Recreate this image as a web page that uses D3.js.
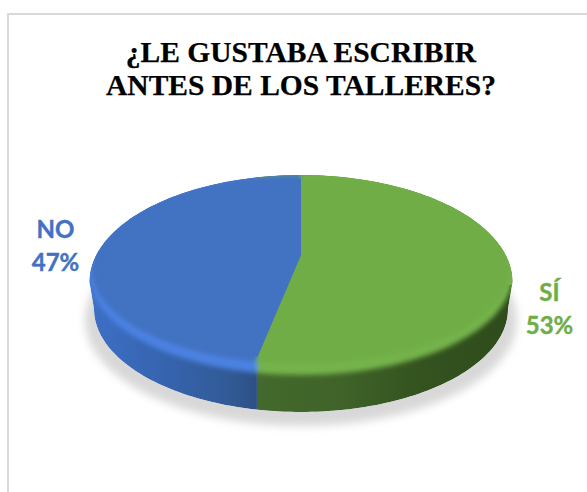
<!DOCTYPE html>
<html lang="es">
<head>
<meta charset="utf-8">
<script src="https://cdn.jsdelivr.net/npm/d3@7"></script>
<style>
  html, body { margin: 0; padding: 0; background: #fff; }
  svg { display: block; }
</style>
</head>
<body>
<script>
// Survey answers
const categories = ["SÍ", "NO"];
const percentages = [53, 47];
const titleLines = ["¿LE GUSTABA ESCRIBIR", "ANTES DE LOS TALLERES?"];

const width = 587, height = 492;
const cx = 301;
const colors = d3.scaleOrdinal(categories, ["#70ad47", "#4272c2"]);
const rimColors = d3.scaleOrdinal(categories, ["#75b34b", "#4c82e2"]);
const labelPos = d3.scaleOrdinal(categories, [[549.5, 301], [55.5, 238]]);

const svg = d3.select("body").append("svg").attr("width", width).attr("height", height);
const defs = svg.append("defs");

// Frame: only the top and left edges fall inside the crop
svg.append("path")
  .attr("d", "M8 492V14H587")
  .attr("fill", "none").attr("stroke", "#d9d9d9").attr("stroke-width", 2);

svg.append("g").selectAll("text").data(titleLines).join("text")
  .attr("x", 301).attr("y", (d, i) => 62 + i * 32.5)
  .attr("text-anchor", "middle")
  .attr("font-family", "'Liberation Serif', serif")
  .attr("font-weight", 700).attr("font-size", 29.5).attr("fill", "#000")
  .attr("stroke", "#000").attr("stroke-width", 0.25)
  .text(d => d);

const pie = d3.pie().sort(null).value(d => d.value);
const slices = pie(categories.map((name, i) => ({ name, value: percentages[i] })));

// Perspective view of a disc: a layer is the tilted circle's top, bottom,
// projected centre and half width on screen.
function projector({ top, bottom, centre, half }) {
  const up = centre - top, dn = bottom - centre;
  const k = (dn - up) / (dn + up);
  const a = up * (1 + k);
  const R = half * Math.sqrt(1 - k * k);
  return t => {
    const u = Math.sin(t), v = -Math.cos(t), w = 1 - k * v;
    return [cx + R * u / w, centre + a * v / w];
  };
}

const steps = 120;
const line = d3.line();
const sweep = (t0, t1) => d3.range(steps + 1).map(i => t0 + (t1 - t0) * i / steps);

const faceLayer = { top: 175, bottom: 364, centre: 255, half: 209 };
const rimLayer = { top: 175, bottom: 375, centre: 255, half: 211.5 };
const face = projector(faceLayer);
const rim = projector(rimLayer);

const wedge = (proj, s) =>
  line([[cx, faceLayer.centre], ...sweep(s.startAngle, s.endAngle).map(proj)]) + "Z";

// The wall seam drops straight down from the point where the slices meet at the front
const seamX = face(slices[0].endAngle)[0] + 1.5;
const sideClip = d => d.data.name === categories[0]
  ? { x: seamX, w: width - seamX } : { x: 0, w: seamX };

categories.forEach((name, i) => {
  const c = sideClip(slices[i]);
  defs.append("clipPath").attr("id", "side" + i)
    .append("rect").attr("x", c.x).attr("y", 0).attr("width", c.w).attr("height", height);
});
defs.append("clipPath").attr("id", "farHalf")
  .append("rect").attr("x", 0).attr("y", 0).attr("width", width).attr("height", 285);

function gradient(id, stops) {
  const g = defs.append("linearGradient").attr("id", id)
    .attr("gradientUnits", "userSpaceOnUse")
    .attr("x1", stops[0][0]).attr("x2", stops[stops.length - 1][0]).attr("y1", 0).attr("y2", 0);
  stops.forEach(([x, col]) => g.append("stop")
    .attr("offset", (x - stops[0][0]) / (stops[stops.length - 1][0] - stops[0][0]))
    .attr("stop-color", col));
}
gradient("wall0", [[257, "#43692c"], [340, "#3f6329"], [420, "#34531f"], [512, "#2f4b1c"]]);
gradient("wall1", [[90, "#3c6fc6"], [170, "#3663ad"], [230, "#315a95"], [257, "#2e4f85"]]);

const blur = (id, sd) => defs.append("filter").attr("id", id)
  .attr("x", "-10%").attr("y", "-10%").attr("width", "120%").attr("height", "120%")
  .append("feGaussianBlur").attr("stdDeviation", sd);
blur("soft", 4.5);
blur("edge", 2.6);
blur("faceEdge", 2);

// Cast shadow under the disc
svg.append("ellipse")
  .attr("cx", 301).attr("cy", 320).attr("rx", 216).attr("ry", 106)
  .attr("fill", "#d8d8d8").attr("filter", "url(#soft)");

// Silhouette of the disc: rim outline on top, lower edge of the wall below
const wallBottom = { cy: 309, rx: 207, ry: 103 };
const lower = d3.range(steps + 1).map(i => {
  const t = Math.PI * i / steps;
  return [cx + wallBottom.rx * Math.cos(t), wallBottom.cy + wallBottom.ry * Math.sin(t)];
});
const upperBase = { cy: 282, rx: 211.5, ry: 107 };
const upper = d3.range(steps + 1).map(i => {
  const t = Math.PI + Math.PI * i / steps;
  return [cx + upperBase.rx * Math.cos(t), upperBase.cy + upperBase.ry * Math.sin(t)];
});
const silhouette = line([...lower, ...upper]) + "Z";
const rimOutline = sweep(0, 2 * Math.PI).map(rim);

defs.append("clipPath").attr("id", "disc").append("path").attr("d", silhouette);

const disc = svg.append("g").attr("clip-path", "url(#disc)");

slices.forEach((s, i) => {
  disc.append("g").attr("clip-path", `url(#side${i})`)
    .append("path").attr("d", silhouette).attr("fill", `url(#wall${i})`);
});

// The far half keeps a crisp outer edge; only the front softens into the wall
disc.append("g").attr("clip-path", "url(#farHalf)").selectAll("path").data(slices).join("path")
  .attr("d", d => {
    const far = projector({ top: 175, bottom: 389, centre: 255, half: 211.5 });
    return wedge(far, d);
  })
  .attr("fill", d => colors(d.data.name));

// Bevel between wall and top face
const bevel = disc.append("g").attr("filter", "url(#edge)");
slices.forEach((s, i) => {
  bevel.append("g").attr("clip-path", `url(#side${i})`)
    .append("path").attr("d", line(rimOutline) + "Z").attr("fill", rimColors(s.data.name));
});

// Top face
disc.append("g").attr("filter", "url(#faceEdge)").selectAll("path").data(slices).join("path")
  .attr("d", d => wedge(face, d))
  .attr("fill", d => colors(d.data.name));

// Sharp split line across the middle of the face
svg.append("g").selectAll("path").data(slices).join("path")
  .attr("d", d => wedge(t => {
    const q = face(t);
    return [cx + (q[0] - cx) * 0.95, faceLayer.centre + (q[1] - faceLayer.centre) * 0.95];
  }, d))
  .attr("fill", d => colors(d.data.name));

// Category and percentage labels
const labels = svg.append("g").selectAll("text").data(slices).join("text")
  .attr("text-anchor", "middle")
  .attr("font-family", "Lato, 'Open Sans', sans-serif")
  .attr("font-weight", 700).attr("font-size", 24)
  .attr("fill", d => colors(d.data.name))
  .attr("stroke", d => colors(d.data.name)).attr("stroke-width", 0.4);
labels.append("tspan")
  .attr("x", d => labelPos(d.data.name)[0]).attr("y", d => labelPos(d.data.name)[1])
  .text(d => d.data.name);
labels.append("tspan")
  .attr("x", d => labelPos(d.data.name)[0]).attr("y", d => labelPos(d.data.name)[1] + 33)
  .text(d => d.data.value + "%");
</script>
</body>
</html>
